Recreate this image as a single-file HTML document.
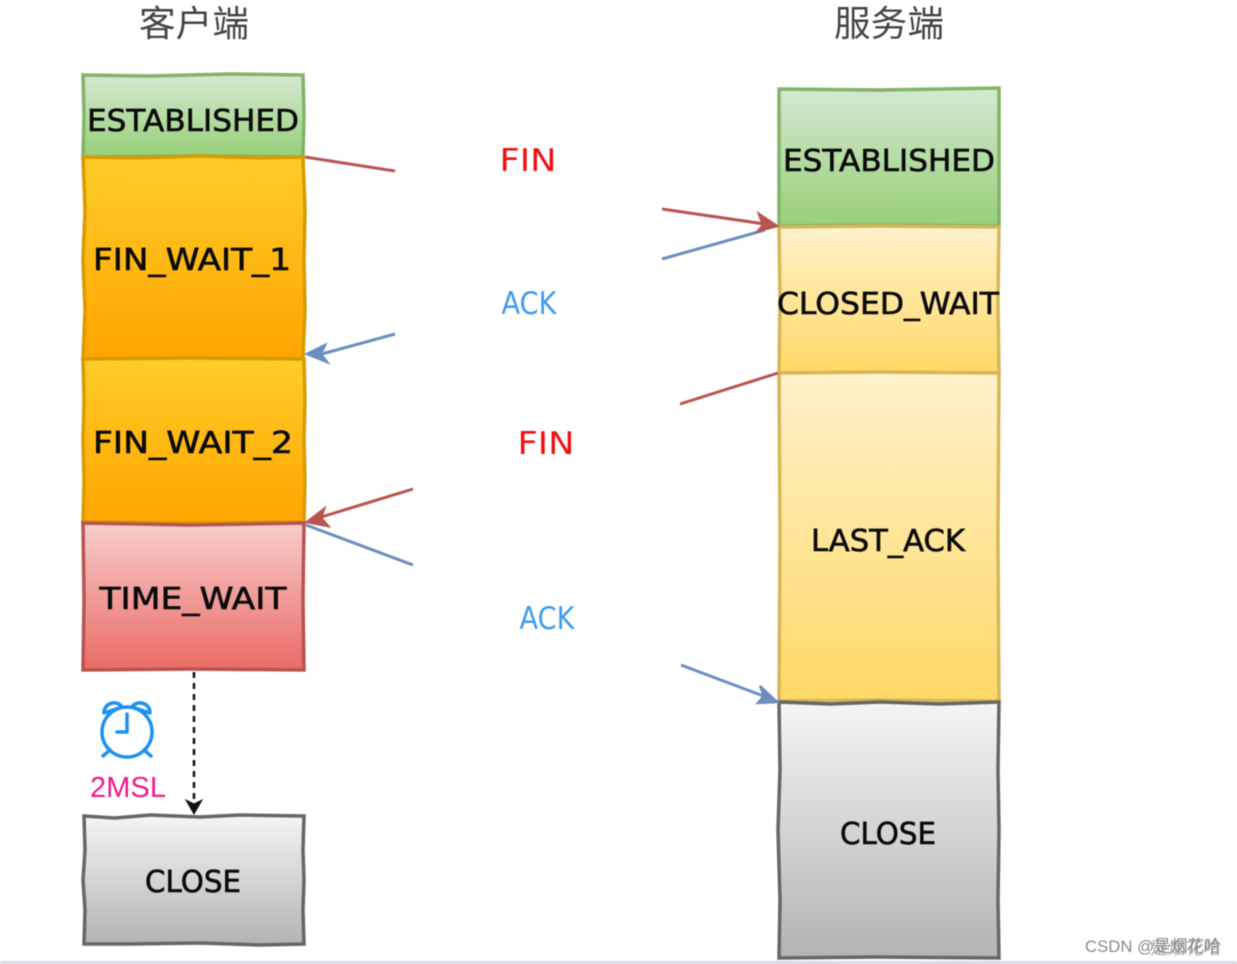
<!DOCTYPE html>
<html><head><meta charset="utf-8"><style>
html,body{margin:0;padding:0;background:#fff;width:1237px;height:964px;overflow:hidden}
svg{display:block;filter:blur(.45px)}
.s{font-family:"DejaVu Sans","Liberation Sans",sans-serif;font-size:30px;fill:#0a0a0a;text-anchor:middle;stroke:#0a0a0a;stroke-width:.6}
.c{font-family:"Liberation Sans","Noto Sans CJK SC",sans-serif;font-size:36px;fill:#444;text-anchor:middle}
.l{font-family:"DejaVu Sans","Liberation Sans",sans-serif;font-size:31px;text-anchor:middle}
</style></head><body>
<svg width="1237" height="964" viewBox="0 0 1237 964" xmlns="http://www.w3.org/2000/svg">
<defs>
<linearGradient id="g" x1="0" y1="0" x2="0" y2="1"><stop offset="0" stop-color="#d5e8d4"/><stop offset="1" stop-color="#97d077"/></linearGradient>
<linearGradient id="o" x1="0" y1="0" x2="0" y2="1"><stop offset="0" stop-color="#ffcd28"/><stop offset="1" stop-color="#ffa500"/></linearGradient>
<linearGradient id="y" x1="0" y1="0" x2="0" y2="1"><stop offset="0" stop-color="#fff2cc"/><stop offset="1" stop-color="#ffd966"/></linearGradient>
<linearGradient id="r" x1="0" y1="0" x2="0" y2="1"><stop offset="0" stop-color="#f8cecc"/><stop offset="1" stop-color="#ea6b66"/></linearGradient>
<linearGradient id="k" x1="0" y1="0" x2="0" y2="1"><stop offset="0" stop-color="#f5f5f5"/><stop offset="1" stop-color="#b3b3b3"/></linearGradient>
</defs>

<text class="c" x="194" y="36" textLength="110" lengthAdjust="spacingAndGlyphs">客户端</text>
<text class="c" x="889" y="36" textLength="110" lengthAdjust="spacingAndGlyphs">服务端</text>

<!-- left column -->
<path d="M83 75 L150 76 L230 74 L303 75 L304 115 L303 157 L200 156 L83 157 L84 115 Z" fill="url(#g)" stroke="#82b366" stroke-width="3.5"/>
<path d="M83 157 L140 158 L200 156 L260 158 L303 157 L305 210 L304 260 L305 310 L303 359 L190 358 L83 359 L85 310 L83 260 L85 210 Z" fill="url(#o)" stroke="#d79b00" stroke-width="3.5"/>
<path d="M83 359 L190 358 L304 359 L305 400 L304 440 L305 480 L304 522 L190 523 L83 522 L84 480 L83 440 L84 400 Z" fill="url(#o)" stroke="#d79b00" stroke-width="3.5"/>
<path d="M83 523 L190 525 L304 523 L303 600 L304 670 L190 669 L83 670 L84 600 Z" fill="url(#r)" stroke="#b85450" stroke-width="3.5"/>
<path d="M84 816 L115 818 L150 815 L200 817 L240 815 L304 816 L303 850 L304 880 L303 910 L304 944 L260 945 L200 943 L130 944 L84 944 L85 910 L83 880 L85 850 Z" fill="url(#k)" stroke="#666" stroke-width="3.5"/>

<!-- right column -->
<path d="M779 89 L880 90 L999 88 L999 160 L999 226 L880 225 L779 226 L779 160 Z" fill="url(#g)" stroke="#82b366" stroke-width="3.5"/>
<path d="M779 227 L880 226 L999 227 L998 300 L999 373 L880 372 L779 373 L780 300 Z" fill="url(#y)" stroke="#d6b656" stroke-width="3.5"/>
<path d="M779 373 L880 372 L999 373 L998 540 L999 701 L880 700 L779 701 L780 540 Z" fill="url(#y)" stroke="#d6b656" stroke-width="3.5"/>
<path d="M779 702 L830 704 L880 702 L940 704 L999 702 L998 770 L999 830 L998 900 L999 958 L880 957 L779 958 L780 900 L778 830 L780 770 Z" fill="url(#k)" stroke="#666" stroke-width="3.5"/>

<!-- state labels -->
<text class="s" x="193" y="131" textLength="212" lengthAdjust="spacingAndGlyphs">ESTABLISHED</text>
<text class="s" x="192" y="270" textLength="198" lengthAdjust="spacingAndGlyphs">FIN_WAIT_1</text>
<text class="s" x="193" y="453" textLength="200" lengthAdjust="spacingAndGlyphs">FIN_WAIT_2</text>
<text class="s" x="193" y="609" textLength="187" lengthAdjust="spacingAndGlyphs">TIME_WAIT</text>
<text class="s" x="193" y="892" textLength="96" lengthAdjust="spacingAndGlyphs">CLOSE</text>
<text class="s" x="889" y="171" textLength="212" lengthAdjust="spacingAndGlyphs">ESTABLISHED</text>
<text class="s" x="888" y="314" textLength="222" lengthAdjust="spacingAndGlyphs">CLOSED_WAIT</text>
<text class="s" x="888" y="551" textLength="154" lengthAdjust="spacingAndGlyphs">LAST_ACK</text>
<text class="s" x="888" y="844" textLength="96" lengthAdjust="spacingAndGlyphs">CLOSE</text>

<!-- connectors -->
<g fill="none" stroke-width="3">
<path d="M305 157 L395 171" stroke="#b85450"/>
<path d="M662 209 L765 224" stroke="#b85450"/>
<path d="M395 334 L318 355" stroke="#6c8ebf"/>
<path d="M662 259 L765 230" stroke="#6c8ebf"/>
<path d="M778 373 L680 404" stroke="#b85450"/>
<path d="M413 489 L318 518" stroke="#b85450"/>
<path d="M306 525 L413 565" stroke="#6c8ebf"/>
<path d="M681 665 L766 697" stroke="#6c8ebf"/>
</g>
<path d="M777 226 L759 214 L763 225 L758 231 Z" fill="#b85450" stroke="#b85450" stroke-width="2.5"/>
<path d="M307 354 L325 345 L321 354 L327 362 Z" fill="#6c8ebf" stroke="#6c8ebf" stroke-width="2.5"/>
<path d="M307 522 L324 509 L321 518 L328 526 Z" fill="#b85450" stroke="#b85450" stroke-width="2.5"/>
<path d="M777 702 L760 686 L764 696 L758 703 Z" fill="#6c8ebf" stroke="#6c8ebf" stroke-width="2.5"/>

<!-- message labels -->
<text class="l" x="528" y="171" fill="#f01010" textLength="57" lengthAdjust="spacingAndGlyphs">FIN</text>
<text class="l" x="529" y="314" fill="#3d9bef" textLength="55" lengthAdjust="spacingAndGlyphs">ACK</text>
<text class="l" x="546" y="454" fill="#f01010" textLength="57" lengthAdjust="spacingAndGlyphs">FIN</text>
<text class="l" x="547" y="629" fill="#3d9bef" textLength="55" lengthAdjust="spacingAndGlyphs">ACK</text>

<!-- dashed timer arrow -->
<path d="M194 672 L194 803" fill="none" stroke="#111" stroke-width="2.5" stroke-dasharray="6 5"/>
<path d="M194 814 L186 800 L194 804 L202 800 Z" fill="#111" stroke="#111"/>

<!-- clock -->
<g fill="none" stroke="#1e90f0" stroke-width="3.5" stroke-linecap="round" stroke-linejoin="round">
<circle cx="127" cy="732" r="25"/>
<path d="M127 714 L127 732 L117 732"/>
<path d="M104 713 C104 702 118 700 122 707 Z"/>
<path d="M150 713 C150 702 136 700 132 707 Z"/>
<path d="M110 750 L103 756"/>
<path d="M144 750 L151 756"/>
</g>
<text x="128" y="797" font-family="Liberation Sans, sans-serif" font-size="29" fill="#f0188c" text-anchor="middle" textLength="76" lengthAdjust="spacingAndGlyphs">2MSL</text>

<!-- watermark -->
<text x="1085" y="952" font-family="Liberation Sans, Noto Sans CJK SC, sans-serif" font-size="17" fill="#8a8a8a" textLength="136" lengthAdjust="spacingAndGlyphs">CSDN @是烟花哈</text>
<text x="1150" y="954" font-family="Liberation Sans, Noto Sans CJK SC, sans-serif" font-size="17" fill="#777" opacity=".6" textLength="71" lengthAdjust="spacingAndGlyphs">是烟花哈</text>
<rect x="0" y="961" width="1237" height="3" fill="#d3dbe3"/>
</svg>
</body></html>
